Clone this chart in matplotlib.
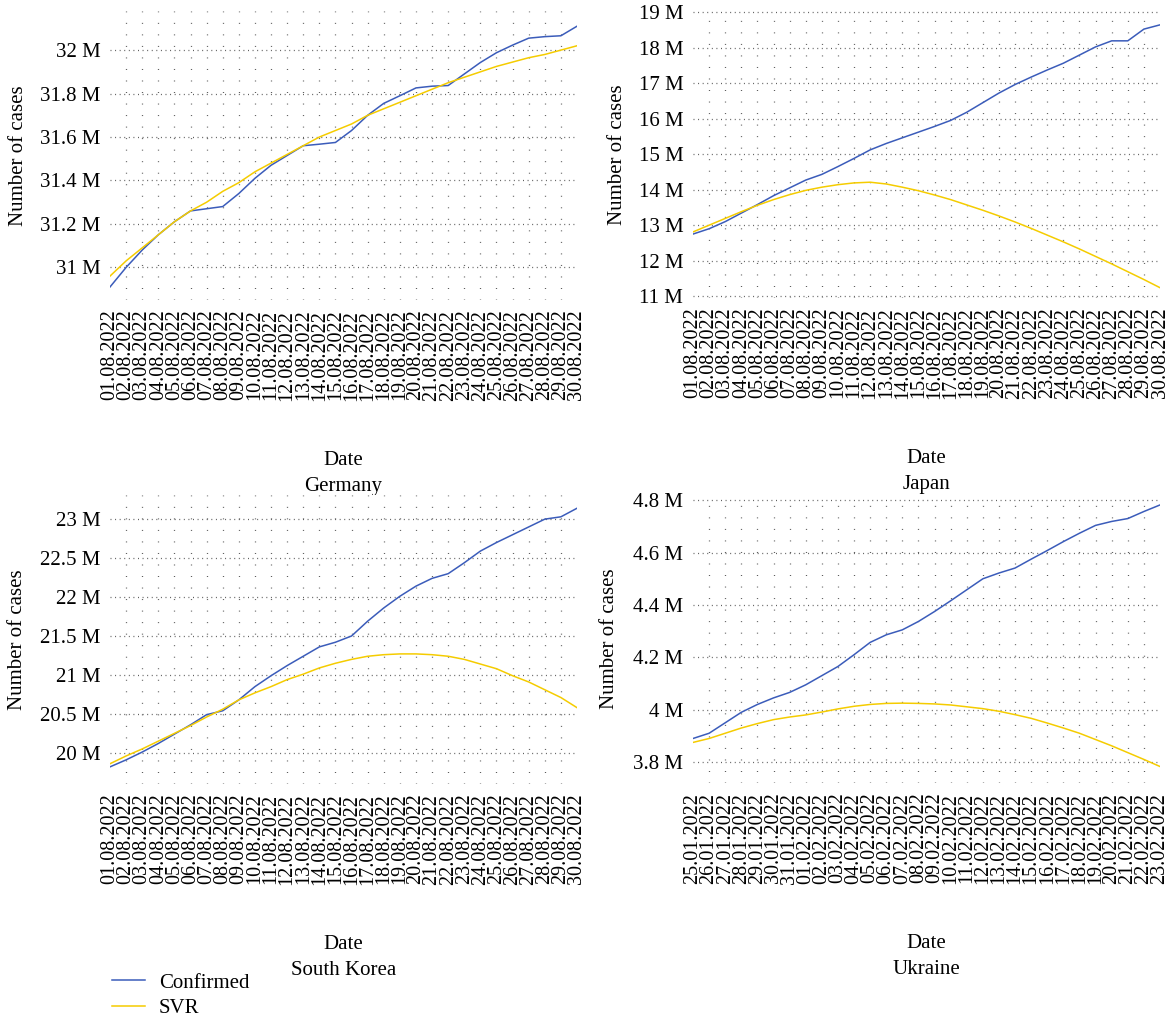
import matplotlib
matplotlib.use('Agg')
import matplotlib.pyplot as plt
import pandas as pd

plt.rcParams['font.family'] = ['Liberation Serif', 'DejaVu Serif']
plt.rcParams['font.size'] = 15
plt.rcParams['lines.scale_dashes'] = False

BLUE = '#3b5cba'
YELLOW = '#f5cc00'
GRID = '#5a5a5a'

# x labels
dates_aug = list(pd.date_range('2022-08-01', periods=30).strftime('%d.%m.%Y'))
dates_ua = list(pd.date_range('2022-01-25', periods=30).strftime('%d.%m.%Y'))

# values in millions
germany_confirmed = [30.91, 31.00, 31.08, 31.15, 31.21, 31.26, 31.27, 31.28, 31.34, 31.41,
                     31.47, 31.515, 31.56, 31.567, 31.575, 31.63, 31.70, 31.755, 31.79, 31.826,
                     31.834, 31.837, 31.89, 31.943, 31.988, 32.023, 32.055, 32.062, 32.066, 32.11]
germany_svr = [30.96, 31.03, 31.09, 31.15, 31.21, 31.26, 31.30, 31.35, 31.39, 31.44,
               31.48, 31.52, 31.56, 31.60, 31.63, 31.66, 31.70, 31.73, 31.76, 31.79,
               31.82, 31.85, 31.875, 31.90, 31.925, 31.945, 31.965, 31.98, 32.00, 32.02]

japan_confirmed = [12.75, 12.90, 13.10, 13.34, 13.58, 13.83, 14.05, 14.27, 14.43, 14.65,
                   14.88, 15.12, 15.30, 15.46, 15.62, 15.78, 15.95, 16.18, 16.45, 16.72,
                   16.96, 17.17, 17.37, 17.56, 17.79, 18.02, 18.19, 18.19, 18.52, 18.64]
japan_svr = [12.81, 13.00, 13.19, 13.38, 13.56, 13.72, 13.86, 13.98, 14.07, 14.14,
             14.19, 14.21, 14.16, 14.07, 13.97, 13.85, 13.72, 13.57, 13.42, 13.26,
             13.09, 12.91, 12.72, 12.53, 12.33, 12.12, 11.91, 11.69, 11.47, 11.24]

korea_confirmed = [19.82, 19.91, 20.01, 20.12, 20.24, 20.36, 20.49, 20.54, 20.68, 20.85,
                   20.99, 21.12, 21.24, 21.36, 21.42, 21.50, 21.69, 21.86, 22.01, 22.14,
                   22.24, 22.30, 22.44, 22.59, 22.70, 22.80, 22.90, 23.00, 23.03, 23.14]
korea_svr = [19.86, 19.96, 20.05, 20.15, 20.25, 20.35, 20.46, 20.56, 20.68, 20.77,
             20.85, 20.94, 21.01, 21.09, 21.15, 21.20, 21.24, 21.26, 21.27, 21.27,
             21.26, 21.24, 21.20, 21.14, 21.08, 20.99, 20.91, 20.81, 20.71, 20.58]

ukraine_confirmed = [3.89, 3.91, 3.95, 3.99, 4.02, 4.045, 4.066, 4.095, 4.13, 4.165,
                     4.21, 4.257, 4.286, 4.305, 4.337, 4.375, 4.416, 4.458, 4.50, 4.522,
                     4.541, 4.575, 4.608, 4.642, 4.674, 4.704, 4.719, 4.73, 4.757, 4.782]
ukraine_svr = [3.875, 3.89, 3.91, 3.93, 3.947, 3.962, 3.972, 3.98, 3.991, 4.003,
               4.013, 4.02, 4.024, 4.025, 4.024, 4.022, 4.018, 4.011, 4.004, 3.994,
               3.981, 3.967, 3.949, 3.93, 3.91, 3.886, 3.862, 3.836, 3.81, 3.783]

panels = [
    ('Germany', dates_aug, germany_confirmed, germany_svr, (30.85, 32.18), [31, 31.2, 31.4, 31.6, 31.8, 32]),
    ('Japan', dates_aug, japan_confirmed, japan_svr, (10.95, 19.03), [11, 12, 13, 14, 15, 16, 17, 18, 19]),
    ('South Korea', dates_aug, korea_confirmed, korea_svr, (19.6, 23.31), [20, 20.5, 21, 21.5, 22, 22.5, 23]),
    ('Ukraine', dates_ua, ukraine_confirmed, ukraine_svr, (3.72, 4.82), [3.8, 4, 4.2, 4.4, 4.6, 4.8]),
]

W, H = 1167, 1022
fig = plt.figure(figsize=(W / 100, H / 100), dpi=100)

# left, top, right, bottom in pixels
boxes = [(110, 11, 577, 300), (693, 11, 1160, 298), (110, 495, 577, 784), (693, 495, 1160, 783)]
ylab_x = [18, 617, 17, 610]

for k, (name, dates, conf, svr, ylim, yt) in enumerate(panels):
    l, t, r, b = boxes[k]
    ax = fig.add_axes([l / W, 1 - b / H, (r - l) / W, (b - t) / H])
    x = list(range(len(dates)))
    l1, = ax.plot(x, conf, color=BLUE, lw=1.1, label='Confirmed')
    l2, = ax.plot(x, svr, color=YELLOW, lw=1.1, label='SVR')
    ax.set_xlim(0, len(dates) - 1)
    ax.set_ylim(*ylim)
    ax.xaxis.remove_overlapping_locs = False
    ax.set_xticks(x)
    ax.set_xticklabels(dates, rotation=90, fontsize=14.5)
    ax.set_xticks(x[1:-1], minor=True)
    ax.set_yticks(yt)
    ax.set_yticklabels(['{:g} M'.format(v) for v in yt])
    ax.grid(axis='x', which='minor', color=GRID, lw=0.9, linestyle=(0, (0.7, 7.6)))
    ax.grid(axis='y', which='major', color=GRID, lw=0.9, linestyle=(0, (0.7, 2.6)))
    ax.tick_params(which='both', length=0)
    ax.tick_params(axis='y', pad=7)
    ax.tick_params(axis='x', pad=7)
    for s in ax.spines.values():
        s.set_visible(False)
    h = b - t
    ax.text((ylab_x[k] - l) / (r - l), 0.5, 'Number of cases', rotation=90,
            ha='center', va='center', transform=ax.transAxes)
    ax.text(0.5, -160 / h, 'Date', ha='center', va='center', transform=ax.transAxes)
    ax.text(0.5, -186 / h, name, ha='center', va='center', transform=ax.transAxes)

fig.legend(handles=[l1, l2], loc='upper left', bbox_to_anchor=(112 / W, 1 - 973 / H),
           frameon=False, handlelength=1.6, handletextpad=0.65, labelspacing=0.3,
           borderpad=0, borderaxespad=0)

fig.savefig('out.png', dpi=100)
